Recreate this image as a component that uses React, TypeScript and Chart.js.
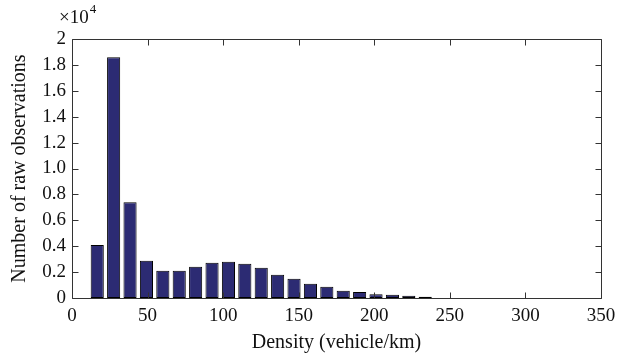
import React, { useEffect, useRef } from "react";
import { Chart, registerables } from "chart.js";

Chart.register(...registerables);

// Bin centres (vehicle/km) and counts of raw observations
const binCenters = [16.7, 27.55, 38.4, 49.25, 60.1, 70.95, 81.8, 92.65, 103.5, 114.35, 125.2, 136.05, 146.9, 157.75, 168.6, 179.45, 190.3, 201.15, 212.0, 222.85, 233.7];
const counts = [4100, 18600, 7400, 2880, 2100, 2100, 2420, 2720, 2800, 2650, 2340, 1800, 1490, 1100, 870, 565, 465, 280, 255, 178, 100];

const xTicks = [0, 50, 100, 150, 200, 250, 300, 350];
const yTicks = [0, 2000, 4000, 6000, 8000, 10000, 12000, 14000, 16000, 18000, 20000];

const FONT = "'Liberation Serif', 'Times New Roman', serif";
const FS = 19;
const TFS = 20;
const AXIS = "#333333";
const BAR = "#2C2B73";

const framePlugin = {
  id: "frame",
  afterDatasetsDraw(chart: any) {
    const { ctx, chartArea: a, scales } = chart;
    const xs = scales.x, ys = scales.y;
    ctx.save();
    ctx.strokeStyle = AXIS;
    ctx.lineWidth = 1;
    const L = Math.round(a.left) + 0.5, R = Math.round(a.right) + 0.5;
    const T = Math.round(a.top) + 0.5, B = Math.round(a.bottom) + 0.5;
    ctx.beginPath();
    ctx.rect(L, T, R - L, B - T);
    const len = 6;
    xTicks.forEach((v) => {
      const px = Math.round(xs.getPixelForValue(v)) + 0.5;
      ctx.moveTo(px, B); ctx.lineTo(px, B - len);
      ctx.moveTo(px, T); ctx.lineTo(px, T + len);
    });
    yTicks.forEach((v) => {
      const py = Math.round(ys.getPixelForValue(v)) + 0.5;
      ctx.moveTo(L, py); ctx.lineTo(L + len, py);
      ctx.moveTo(R, py); ctx.lineTo(R - len, py);
    });
    ctx.stroke();
    // exponent label
    ctx.fillStyle = "#111";
    ctx.textBaseline = "alphabetic";
    ctx.textAlign = "left";
    ctx.font = `${FS}px ${FONT}`;
    ctx.fillText("\u00d710", a.left - 13, a.top - 16);
    const w = ctx.measureText("\u00d710").width;
    ctx.font = `13px ${FONT}`;
    ctx.fillText("4", a.left - 13 + w + 1, a.top - 26);
    ctx.restore();
  },
};

export default function App() {
  const ref = useRef<HTMLCanvasElement>(null);
  useEffect(() => {
    if (!ref.current) return;
    const chart = new Chart(ref.current, {
      type: "bar",
      data: {
        datasets: [
          {
            data: binCenters.map((x, i) => ({ x, y: counts[i] })),
            backgroundColor: BAR,
            borderColor: "#000000",
            borderWidth: 1,
            borderSkipped: false,
            barPercentage: 0.8,
            categoryPercentage: 1,
          },
        ],
      },
      options: {
        animation: false,
        responsive: false,
        maintainAspectRatio: false,
        layout: { padding: { left: 0, top: 39, right: 36, bottom: 0 } },
        plugins: { legend: { display: false }, tooltip: { enabled: false } },
        scales: {
          x: {
            type: "linear",
            offset: false,
            min: 0,
            max: 350,
            grid: { display: false, drawTicks: false, offset: false },
            border: { display: false },
            afterFit: (s: any) => { s.height = 64; },
            afterBuildTicks: (s: any) => { s.ticks = xTicks.map((v) => ({ value: v })); },
            ticks: { color: "#111", font: { family: FONT, size: FS }, padding: 7, maxRotation: 0 },
            title: { display: true, text: "Density (vehicle/km)", color: "#111", font: { family: FONT, size: TFS }, padding: { bottom: 7, top: 0 } },
          },
          y: {
            min: 0,
            max: 20000,
            grid: { display: false, drawTicks: false },
            border: { display: false },
            afterFit: (s: any) => { s.width = 72; },
            afterBuildTicks: (s: any) => { s.ticks = yTicks.map((v) => ({ value: v })); },
            ticks: {
              color: "#111",
              font: { family: FONT, size: FS },
              padding: 6,
              callback: (v: any) => (v === 0 ? "0" : v === 20000 ? "2" : (v / 10000).toFixed(1)),
            },
            title: { display: true, text: "Number of raw observations", color: "#111", font: { family: FONT, size: TFS }, padding: { top: 8, bottom: 0 } },
          },
        },
      },
      plugins: [framePlugin],
    } as any);
    return () => chart.destroy();
  }, []);
  return (
    <div style={{ position: "fixed", left: 0, top: 0, width: 637, height: 362, background: "#fff" }}>
      <canvas ref={ref} width={637} height={362} style={{ width: 637, height: 362 }} />
    </div>
  );
}
